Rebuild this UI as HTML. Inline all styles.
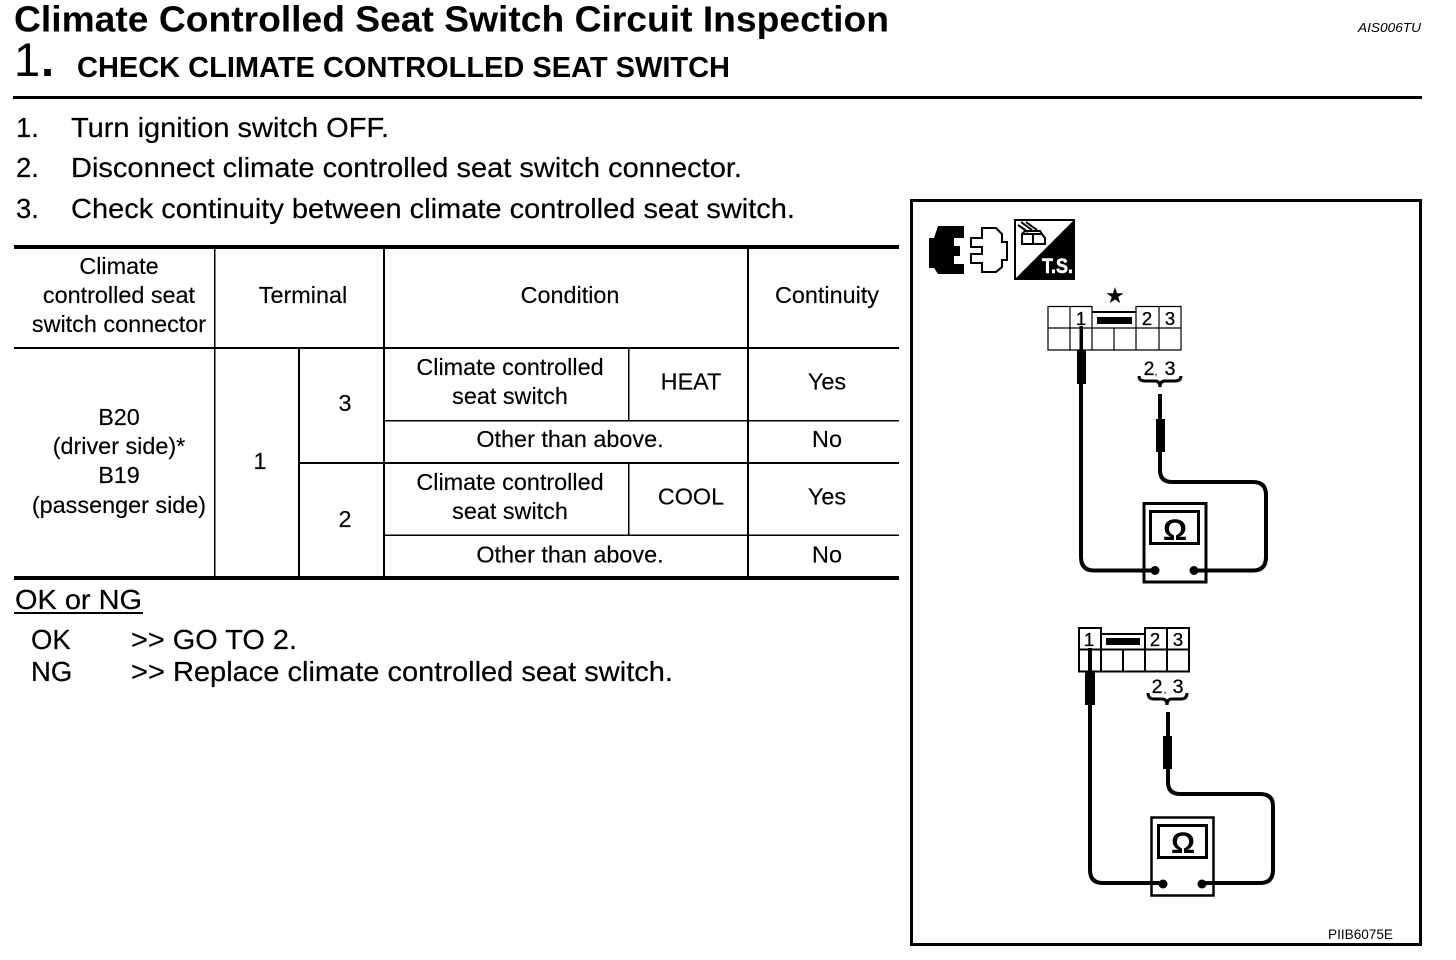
<!DOCTYPE html>
<html><head><meta charset="utf-8"><style>
html,body{margin:0;padding:0;background:#fff;width:1456px;height:960px;overflow:hidden}
svg{display:block}
text{font-family:"Liberation Sans",sans-serif;fill:#000}
.b{font-size:27.5px;stroke:#000;stroke-width:.2px}
.t{font-size:23.4px;text-anchor:middle;stroke:#000;stroke-width:.15px}
.s{font-size:18.5px;text-anchor:middle;stroke:#000;stroke-width:.3px}
.l{font-size:19.5px;text-anchor:middle;stroke:#000;stroke-width:.3px}
</style></head><body>
<svg width="1456" height="960" viewBox="0 0 1456 960" xmlns="http://www.w3.org/2000/svg">
<rect width="1456" height="960" fill="#fff"/>
<text x="14" y="31.500" font-size="36" font-weight="bold" textLength="875" lengthAdjust="spacingAndGlyphs">Climate Controlled Seat Switch Circuit Inspection</text>
<text x="14" y="76" font-size="47">1</text><text x="41" y="76" font-size="47" font-weight="bold">.</text>
<text x="77" y="77" font-size="29" font-weight="bold" textLength="653" lengthAdjust="spacingAndGlyphs">CHECK CLIMATE CONTROLLED SEAT SWITCH</text>
<text x="1358" y="32" font-size="13" font-style="italic" textLength="63" lengthAdjust="spacingAndGlyphs">AIS006TU</text>
<rect x="13" y="96" width="1409" height="3"/>
<text class="b" x="16" y="137">1.</text><text class="b" x="71" y="137" textLength="318" lengthAdjust="spacingAndGlyphs">Turn ignition switch OFF.</text>
<text class="b" x="16" y="177">2.</text><text class="b" x="71" y="177" textLength="671" lengthAdjust="spacingAndGlyphs">Disconnect climate controlled seat switch connector.</text>
<text class="b" x="16" y="218">3.</text><text class="b" x="71" y="218" textLength="724" lengthAdjust="spacingAndGlyphs">Check continuity between climate controlled seat switch.</text>

<g fill="#000">
<rect x="14" y="245" width="885" height="4"/><rect x="14" y="347" width="885" height="2"/><rect x="14" y="576" width="885" height="4"/>
<rect x="384" y="420" width="515" height="1.500"/><rect x="299" y="462" width="600" height="2"/><rect x="384" y="534.500" width="515" height="1.500"/>
<rect x="214" y="248" width="1.500" height="330"/><rect x="298" y="348" width="2" height="230"/><rect x="383" y="248" width="2" height="330"/><rect x="747" y="248" width="2" height="330"/>
<rect x="628" y="348" width="1.500" height="72"/><rect x="628" y="463" width="1.500" height="72"/>
</g>
<text class="t" x="119" y="274">Climate</text><text class="t" x="119" y="303">controlled seat</text><text class="t" x="119" y="332">switch connector</text>
<text class="t" x="303" y="303">Terminal</text><text class="t" x="570" y="303">Condition</text><text class="t" x="827" y="303">Continuity</text>
<text class="t" x="119" y="425">B20</text><text class="t" x="119" y="454">(driver side)*</text><text class="t" x="119" y="483">B19</text><text class="t" x="119" y="513">(passenger side)</text>
<text class="t" x="260" y="469">1</text><text class="t" x="345" y="411">3</text><text class="t" x="345" y="527">2</text>
<text class="t" x="510" y="375">Climate controlled</text><text class="t" x="510" y="404">seat switch</text><text class="t" x="691" y="389.500">HEAT</text><text class="t" x="827" y="389.500">Yes</text>
<text class="t" x="570" y="447">Other than above.</text><text class="t" x="827" y="447">No</text>
<text class="t" x="510" y="490">Climate controlled</text><text class="t" x="510" y="519">seat switch</text><text class="t" x="691" y="504.500">COOL</text><text class="t" x="827" y="504.500">Yes</text>
<text class="t" x="570" y="562.500">Other than above.</text><text class="t" x="827" y="562.500">No</text>

<text class="b" x="15" y="609" textLength="127" lengthAdjust="spacingAndGlyphs">OK or NG</text><rect x="14" y="612" width="129" height="2"/>
<text class="b" x="31" y="649">OK</text><text class="b" x="131" y="649" textLength="166" lengthAdjust="spacingAndGlyphs">&gt;&gt; GO TO 2.</text>
<text class="b" x="31" y="681">NG</text><text class="b" x="131" y="681" textLength="542" lengthAdjust="spacingAndGlyphs">&gt;&gt; Replace climate controlled seat switch.</text>

<rect x="911.500" y="200.500" width="509" height="744" fill="none" stroke="#000" stroke-width="3"/>

<path d="M938 226H964V238H954V246H960V256H954V264H964V274H938L934 268H929V238H934Z" fill="#000"/>
<path d="M971 238H982V228H996L1002 234V242H1007V260H1002V267L996 272H982V263H971V254H982V247H971Z" fill="#fff" stroke="#000" stroke-width="2"/>
<rect x="1015" y="220" width="59" height="59" fill="#fff" stroke="#000" stroke-width="2"/>
<path d="M1074 220V279H1015Z" fill="#000"/>
<path d="M1022 234H1042L1045 238V244H1022ZM1022 234L1025 231H1040L1042 234" fill="#fff" stroke="#000" stroke-width="2"/>
<path d="M1033 234V244M1018 225L1028 232M1021 222L1032 230M1026 222L1037 230" stroke="#000" stroke-width="2" fill="none"/>
<text x="1042" y="273" font-size="21" font-weight="bold" style="fill:#fff;stroke:#fff;stroke-width:.6px" textLength="31" lengthAdjust="spacingAndGlyphs">T.S.</text>

<text x="1115" y="303" font-size="22" font-weight="bold" text-anchor="middle" style="font-family:'DejaVu Sans',sans-serif">★</text>
<g fill="none" stroke="#000" stroke-width="1.200">
<path d="M1048 306.500H1092V312H1136V306.500H1181V350H1048ZM1048 328H1181M1070 306.500V350M1092 312V350M1114 328V350M1136 312V350M1159 306.500V350"/>
</g>
<rect x="1092" y="311" width="44" height="2" fill="#000"/>
<rect x="1097" y="317" width="35" height="7" fill="#000"/>
<text class="s" x="1081" y="325">1</text><text class="s" x="1147" y="325">2</text><text class="s" x="1170" y="325">3</text>
<text class="l" x="1149" y="375">2</text><text x="1156" y="375" font-size="11" text-anchor="middle">,</text><text class="l" x="1170" y="375">3</text>
<path d="M1139 376Q1139 381 1145 381H1155Q1160 381 1160 387Q1160 381 1165 381H1175Q1181 381 1181 376" fill="none" stroke="#000" stroke-width="3"/>
<g fill="#000">
<rect x="1079.500" y="326" width="3.500" height="26"/><rect x="1077" y="350" width="9" height="34"/>
<rect x="1158" y="394" width="4" height="26"/><rect x="1156" y="419" width="9" height="33"/>
</g>
<path d="M1081 380V557Q1081 570.500 1094 570.500H1155M1194 570.500H1253Q1266 570.500 1266 557V495Q1266 482 1253 482H1172Q1160 482 1160 470V450" fill="none" stroke="#000" stroke-width="4"/>
<rect x="1144" y="503.500" width="62" height="78.500" fill="none" stroke="#000" stroke-width="3"/>
<rect x="1150.500" y="511.500" width="48" height="32" fill="none" stroke="#000" stroke-width="3"/>
<text x="1175" y="540" font-size="30" font-weight="bold" text-anchor="middle">Ω</text>
<circle cx="1155" cy="570.500" r="4.500"/><circle cx="1194" cy="570.500" r="4.500"/>

<g fill="none" stroke="#000" stroke-width="2">
<path d="M1079 628H1101V634H1145V628H1189V671.500H1079ZM1079 649.500H1189M1101 628V671.500M1123 649.500V671.500M1145 628V671.500M1167 628V671.500"/>
</g>
<rect x="1106" y="638" width="34" height="7" fill="#000"/>
<text class="s" x="1089" y="646">1</text><text class="s" x="1155" y="646">2</text><text class="s" x="1178" y="646">3</text>
<text class="l" x="1157" y="693">2</text><text x="1165" y="693" font-size="11" text-anchor="middle">,</text><text class="l" x="1178" y="693">3</text>
<path d="M1148 693Q1148 699 1154 699H1162Q1167 699 1167 705Q1167 699 1172 699H1181Q1187 699 1187 693" fill="none" stroke="#000" stroke-width="3"/>
<g fill="#000">
<rect x="1088" y="648" width="4" height="26"/><rect x="1085" y="671" width="10" height="34"/>
<rect x="1166" y="712" width="4" height="26"/><rect x="1163" y="736" width="9" height="33"/>
</g>
<path d="M1090 700V870Q1090 883 1103 883H1163M1202 883H1260Q1273 883 1273 870V806Q1273 794 1260 794H1180Q1168 794 1168 782V765" fill="none" stroke="#000" stroke-width="4"/>
<rect x="1151.500" y="817.500" width="62" height="78" fill="none" stroke="#000" stroke-width="2.500"/>
<rect x="1158.500" y="825.500" width="48" height="32" fill="none" stroke="#000" stroke-width="3"/>
<text x="1183" y="853" font-size="30" font-weight="bold" text-anchor="middle">Ω</text>
<circle cx="1163" cy="884" r="4.500"/><circle cx="1202" cy="884" r="4.500"/>

<text x="1328" y="939" font-size="14" textLength="65" lengthAdjust="spacingAndGlyphs">PIIB6075E</text>
</svg>
</body></html>
